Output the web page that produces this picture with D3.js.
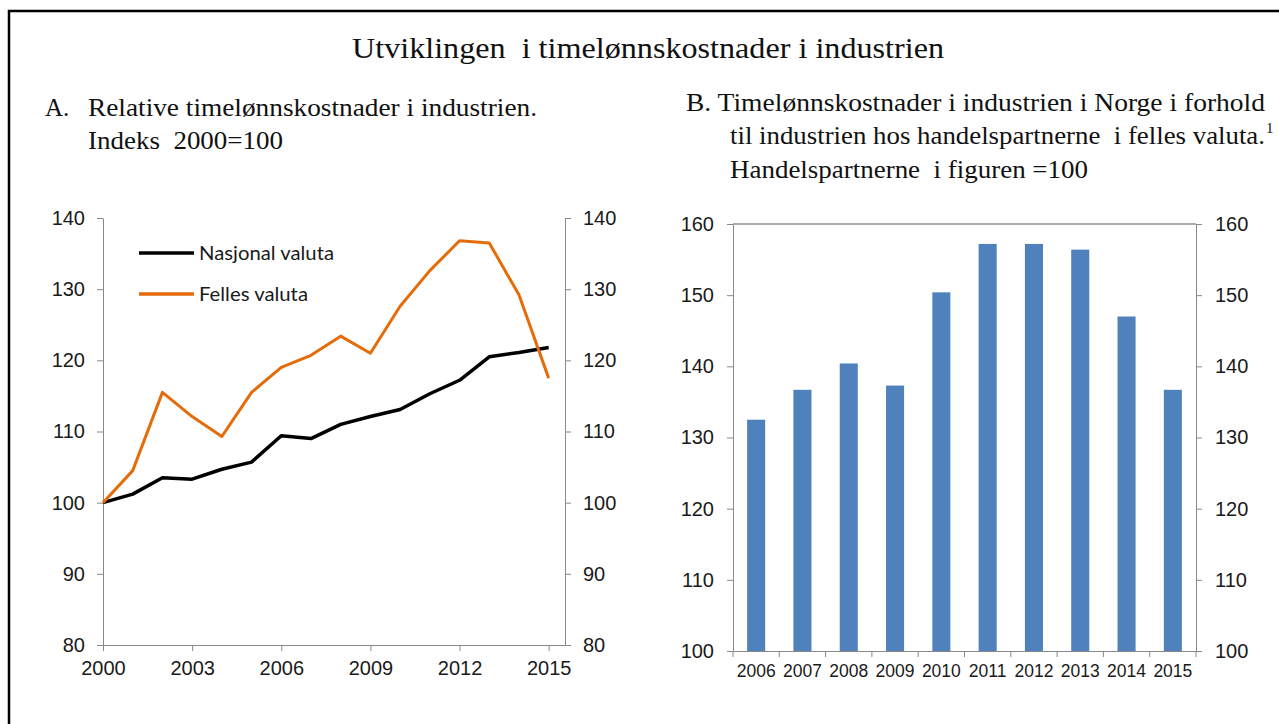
<!DOCTYPE html>
<html>
<head>
<meta charset="utf-8">
<script src="https://cdn.jsdelivr.net/npm/d3@7"></script>
<style>
  body { margin: 0; background: #fff; }
  svg { display: block; }
  text { white-space: pre; }
</style>
</head>
<body>
<div id="chart"></div>
<script>
const width = 1279;
const height = 724;

// panel A data
const years = [2000, 2001, 2002, 2003, 2004, 2005, 2006, 2007, 2008, 2009, 2010, 2011, 2012, 2013, 2014, 2015];
const nasjonal = [100, 101.2, 103.5, 103.3, 104.7, 105.7, 109.4, 109.0, 111.0, 112.1, 113.1, 115.3, 117.2, 120.5, 121.1, 121.8];
const felles = [100, 104.5, 115.5, 112.1, 109.3, 115.5, 119.0, 120.7, 123.4, 121.0, 127.6, 132.6, 136.8, 136.5, 129.2, 117.5];
const yearTicks = [2000, 2003, 2006, 2009, 2012, 2015];
const leftTicks = [80, 90, 100, 110, 120, 130, 140];

// panel B data
const barYears = ["2006", "2007", "2008", "2009", "2010", "2011", "2012", "2013", "2014", "2015"];
const barValues = [132.5, 136.7, 140.4, 137.3, 150.4, 157.2, 157.2, 156.4, 147.0, 136.7];
const barTicks = [100, 110, 120, 130, 140, 150, 160];

const axisColor = "#898989";
const tickFont = "'Liberation Sans', Arial, sans-serif";
const serif = "'Liberation Serif', 'Times New Roman', serif";

const svg = d3.select("#chart").append("svg")
    .attr("width", width)
    .attr("height", height);

// frame
svg.append("rect")
    .attr("x", 9)
    .attr("y", 11)
    .attr("width", 1300)
    .attr("height", 800)
    .attr("fill", "none")
    .attr("stroke", "#000")
    .attr("stroke-width", 2.5);

// titles (the original text is a bit wider than the font, so stretch it)
function serifLine(x, y, size, len, txt, anchor) {
    const t = svg.append("text")
        .attr("x", x)
        .attr("y", y)
        .attr("text-anchor", anchor || "start")
        .attr("fill", "#111")
        .style("font-family", serif)
        .style("font-size", size + "px")
        .text(txt);
    if (len) {
        t.attr("textLength", len).attr("lengthAdjust", "spacingAndGlyphs");
    }
    return t;
}

serifLine(648, 58, 29, 592, "Utviklingen  i timelønnskostnader i industrien", "middle");

serifLine(45, 116, 25, null, "A.");
serifLine(88, 116, 25, 449, "Relative timelønnskostnader i industrien.");
serifLine(88, 149, 25, 195, "Indeks  2000=100");

serifLine(686, 111, 25, 579, "B. Timelønnskostnader i industrien i Norge i forhold");
serifLine(730, 144, 25, 535, "til industrien hos handelspartnerne  i felles valuta.");
svg.append("text")
    .attr("x", 1266)
    .attr("y", 133)
    .attr("fill", "#111")
    .style("font-family", serif)
    .style("font-size", "15px")
    .text("1");
serifLine(730, 178, 25, 358, "Handelspartnerne  i figuren =100");

function styleAxis(g) {
    g.selectAll("path, line").attr("stroke", axisColor);
    g.selectAll("text")
        .attr("fill", "#1a1a1a")
        .style("font-family", tickFont)
        .style("font-size", "20px");
}

// ---------- panel A ----------
const xA = d3.scaleLinear()
    .domain([2000, 2015.55])
    .range([103, 565]);

const yA = d3.scaleLinear()
    .domain([80, 140])
    .range([645, 218]);

svg.append("g")
    .attr("transform", "translate(0,645)")
    .call(d3.axisBottom(xA).tickValues(yearTicks).tickFormat(d3.format("d"))
        .tickSize(6).tickSizeOuter(0).tickPadding(10))
    .call(styleAxis);

svg.append("g")
    .attr("transform", "translate(103,0)")
    .call(d3.axisLeft(yA).tickValues(leftTicks).tickSize(6).tickSizeOuter(0).tickPadding(12))
    .call(styleAxis);

svg.append("g")
    .attr("transform", "translate(565,0)")
    .call(d3.axisRight(yA).tickValues(leftTicks).tickSize(6).tickSizeOuter(0).tickPadding(12))
    .call(styleAxis);

const lineA = (vals) => d3.line()
    .x((d, i) => xA(years[i]))
    .y(d => yA(d))(vals);

svg.append("path")
    .attr("d", lineA(nasjonal))
    .attr("fill", "none")
    .attr("stroke", "#000")
    .attr("stroke-width", 3.5)
    .attr("stroke-linejoin", "round");

svg.append("path")
    .attr("d", lineA(felles))
    .attr("fill", "none")
    .attr("stroke", "#E46C0A")
    .attr("stroke-width", 3)
    .attr("stroke-linejoin", "round");

// legend
const legend = [
    { name: "Nasjonal valuta", color: "#000", y: 253, w: 135 },
    { name: "Felles valuta", color: "#E46C0A", y: 294, w: 109 }
];
const lg = svg.append("g");
lg.selectAll("line")
    .data(legend)
    .enter().append("line")
    .attr("x1", 139)
    .attr("x2", 194)
    .attr("y1", d => d.y)
    .attr("y2", d => d.y)
    .attr("stroke", d => d.color)
    .attr("stroke-width", 3.5);
lg.selectAll("text")
    .data(legend)
    .enter().append("text")
    .attr("x", 199)
    .attr("y", d => d.y)
    .attr("dy", "0.35em")
    .attr("textLength", d => d.w)
    .attr("lengthAdjust", "spacingAndGlyphs")
    .attr("fill", "#1a1a1a")
    .style("font-family", "Lato, 'Open Sans', sans-serif")
    .style("font-size", "19px")
    .text(d => d.name);

// ---------- panel B ----------
const xB = d3.scaleBand()
    .domain(barYears)
    .range([733, 1196])
    .paddingInner(0.61)
    .paddingOuter(0.305);

const yB = d3.scaleLinear()
    .domain([100, 160])
    .range([651, 224]);

svg.selectAll(".bar")
    .data(barValues)
    .enter().append("rect")
    .attr("class", "bar")
    .attr("x", (d, i) => xB(barYears[i]))
    .attr("y", d => yB(d))
    .attr("width", xB.bandwidth())
    .attr("height", d => yB(100) - yB(d))
    .attr("fill", "#4F81BD");

// top border of plot B
svg.append("line")
    .attr("x1", 733)
    .attr("x2", 1196)
    .attr("y1", 224)
    .attr("y2", 224)
    .attr("stroke", "#595959")
    .attr("stroke-width", 1.2);

const bottomB = svg.append("g")
    .attr("transform", "translate(0,651)")
    .call(d3.axisBottom(xB).tickSize(0).tickSizeOuter(0).tickPadding(14))
    .call(styleAxis);
bottomB.selectAll("text").style("font-size", "17.5px");

// category boundary ticks
const step = xB.step();
const bounds = barYears.map(d => xB(d) - step * xB.paddingInner() / 2);
bounds.push(xB(barYears[barYears.length - 1]) + xB.bandwidth() + step * xB.paddingInner() / 2);
bottomB.selectAll(".bound")
    .data(bounds)
    .enter().append("line")
    .attr("class", "bound")
    .attr("x1", d => d)
    .attr("x2", d => d)
    .attr("y1", 0)
    .attr("y2", 6)
    .attr("stroke", axisColor);

svg.append("g")
    .attr("transform", "translate(733,0)")
    .call(d3.axisLeft(yB).tickValues(barTicks).tickSize(6).tickSizeOuter(0).tickPadding(13))
    .call(styleAxis);

svg.append("g")
    .attr("transform", "translate(1196,0)")
    .call(d3.axisRight(yB).tickValues(barTicks).tickSize(6).tickSizeOuter(0).tickPadding(13))
    .call(styleAxis);
</script>
</body>
</html>
